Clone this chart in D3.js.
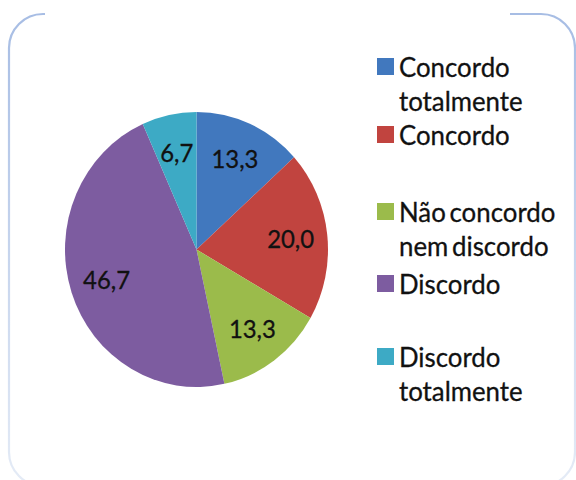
<!DOCTYPE html>
<html>
<head>
<meta charset="utf-8">
<script src="https://cdn.jsdelivr.net/npm/d3@7"></script>
<style>
  html, body { margin: 0; padding: 0; background: #ffffff; }
  svg { display: block; }
</style>
</head>
<body>
<svg id="chart" width="576" height="480"></svg>
<script>
// Survey answers (percent of respondents)
const categories = [
  ["Concordo", "totalmente"],
  ["Concordo"],
  ["Não concordo", "nem discordo"],
  ["Discordo"],
  ["Discordo", "totalmente"]
];
const values = [13.3, 20.0, 13.3, 46.7, 6.7];
const valueLabels = ["13,3", "20,0", "13,3", "46,7", "6,7"];
const colors = ["#4178be", "#c1443f", "#9bbb4b", "#7d5ca0", "#3daac5"];

const svg = d3.select("#chart");

// Frame: rounded box whose top edge is interrupted
const defs = svg.append("defs");
const grad = defs.append("linearGradient")
  .attr("id", "frameGrad")
  .attr("gradientUnits", "userSpaceOnUse")
  .attr("x1", 0).attr("y1", 14).attr("x2", 0).attr("y2", 480);
grad.append("stop").attr("offset", 0).attr("stop-color", "#a7bde4");
grad.append("stop").attr("offset", 1).attr("stop-color", "#e4ebf6");

const fx0 = 9, fy0 = 14, fx1 = 575, fy1 = 486, fr = 34;
const framePath = d3.path();
framePath.moveTo(45, fy0);
framePath.lineTo(fx0 + fr, fy0);
framePath.arcTo(fx0, fy0, fx0, fy0 + fr, fr);
framePath.lineTo(fx0, fy1 - fr);
framePath.arcTo(fx0, fy1, fx0 + fr, fy1, fr);
framePath.lineTo(fx1 - fr, fy1);
framePath.arcTo(fx1, fy1, fx1, fy1 - fr, fr);
framePath.lineTo(fx1, fy0 + fr);
framePath.arcTo(fx1, fy0, fx1 - fr, fy0, fr);
framePath.lineTo(510, fy0);
svg.append("path")
  .attr("d", framePath.toString())
  .attr("fill", "none")
  .attr("stroke", "url(#frameGrad)")
  .attr("stroke-width", 2.2);

// Pie
const cx = 196.5, cy = 249.5;
const R = 137.5;           // vertical radius
const sx = 131.5 / 137.5;  // horizontal squeeze of the plot

const pie = d3.pie().sort(null).value(d => d)(values);
const arc = d3.arc().innerRadius(0).outerRadius(R);
const labelArc = d3.arc().innerRadius(99).outerRadius(99);

const pieG = svg.append("g").attr("transform", `translate(${cx},${cy})`);
pieG.append("g")
  .attr("transform", `scale(${sx},1)`)
  .selectAll("path")
  .data(pie)
  .join("path")
  .attr("d", arc)
  .attr("fill", (d, i) => colors[i]);

const labelFont = "Lato, 'Open Sans', sans-serif";
pieG.selectAll("text.val")
  .data(pie)
  .join("text")
  .attr("class", "val")
  .attr("transform", d => {
    const [x, y] = labelArc.centroid(d);
    return `translate(${x * sx},${y}) scale(${sx},1)`;
  })
  .attr("text-anchor", "middle")
  .attr("dy", "0.36em")
  .attr("font-family", labelFont)
  .attr("font-size", 25)
  .attr("fill", "#111111")
  .attr("stroke", "#111111")
  .attr("stroke-width", 0.3)
  .text((d, i) => valueLabels[i]);

// Legend
const legendRowStarts = [67, 135, 212, 284, 357];
const lineGap = 34;
const legend = svg.append("g");
categories.forEach((lines, i) => {
  const y0 = legendRowStarts[i];
  legend.append("rect")
    .attr("x", 377).attr("y", y0 - 9)
    .attr("width", 17).attr("height", 17)
    .attr("fill", colors[i]);
  lines.forEach((t, j) => {
    legend.append("text")
      .attr("transform", `translate(399,${y0 + j * lineGap}) scale(${sx},1)`)
      .attr("dy", "0.36em")
      .attr("font-family", labelFont)
      .attr("font-size", 27)
      .attr("word-spacing", -3)
      .attr("fill", "#111111")
      .attr("stroke", "#111111")
      .attr("stroke-width", 0.3)
      .text(t);
  });
});
</script>
</body>
</html>
